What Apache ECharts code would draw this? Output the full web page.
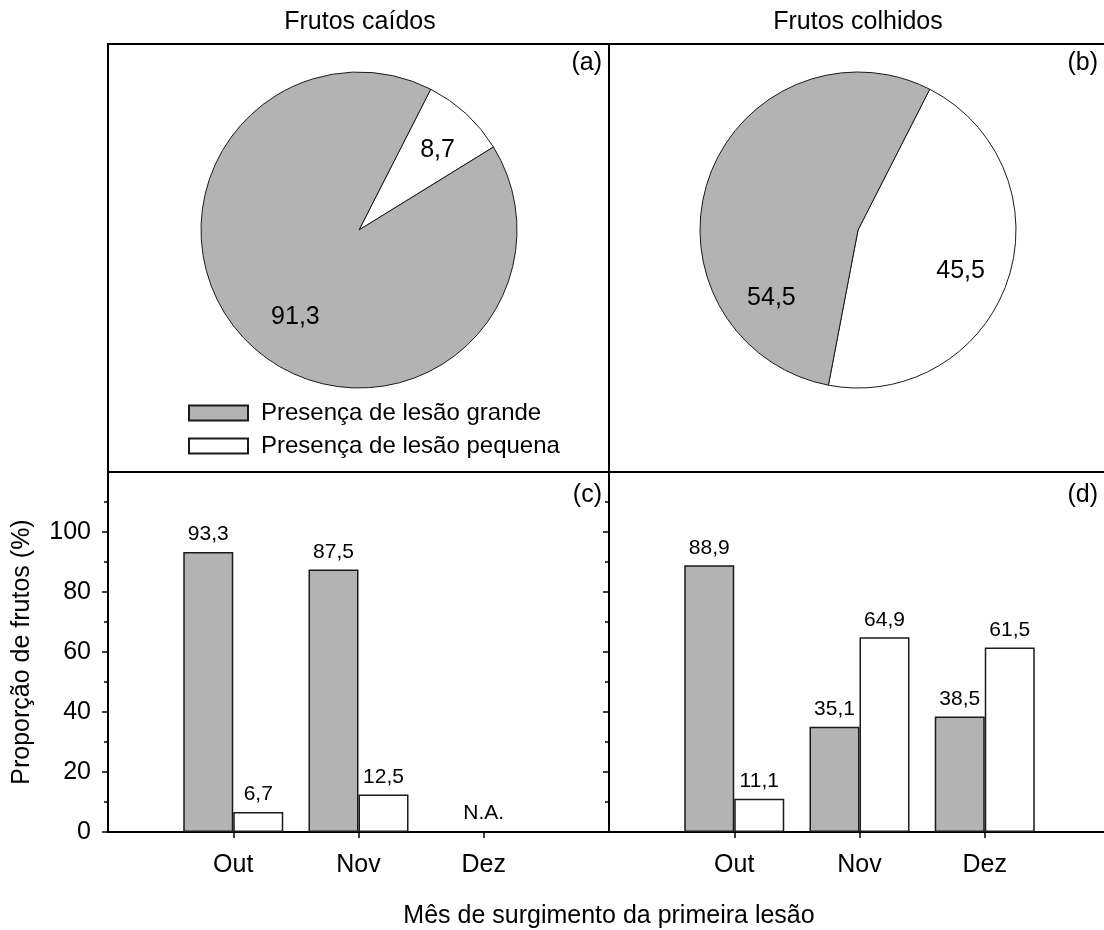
<!DOCTYPE html>
<html>
<head>
<meta charset="utf-8">
<script src="https://cdn.jsdelivr.net/npm/echarts@6/dist/echarts.min.js"></script>
<style>
  html, body { margin: 0; padding: 0; background: #fff; }
  #chart { width: 1104px; height: 930px; }
</style>
</head>
<body>
<div id="chart"></div>
<script>
// ---- data ----
const months = ['Out', 'Nov', 'Dez'];
const caidosGrande = [93.3, 87.5, null];
const caidosPequena = [6.7, 12.5, null];
const colhidosGrande = [88.9, 35.1, 38.5];
const colhidosPequena = [11.1, 64.9, 61.5];
const pieCaidos = [91.3, 8.7];      // grande, pequena
const pieColhidos = [54.5, 45.5];   // grande, pequena
const yTickLabels = [0, 20, 40, 60, 80, 100];
const naMonth = 'Dez';

const NAME_G = 'Presença de lesão grande';
const NAME_P = 'Presença de lesão pequena';

// ---- styling ----
const FONT = "'Liberation Sans', Arial, sans-serif";
const GRAY = '#b3b3b3';
const EDGE = '#1a1a1a';
const frame = { left: 108, top: 44, mid: 609, split: 472, bottom: 832, panelW: 501 };

// x positions: one empty slot on each side so the months sit at 1..3 of 0..4
const xCats = ['_l', ...months, '_r'];
const pad = arr => [null, ...arr, null];
const fmt = v => (v == null ? '' : Number(v).toFixed(1).replace('.', ','));

// label nudges for the pie slices, ordered [pequena, grande]
const pieLabelShift = {
  caidos: [[23, -20], [-8, 27]],
  colhidos: [[25, 15], [-9, 95]]
};

function xAxis(gridIndex) {
  return {
    gridIndex, type: 'category', data: xCats, boundaryGap: false,
    axisLine: { show: true, lineStyle: { color: '#000', width: 2 } },
    axisTick: {
      show: true, inside: false, length: 6,
      interval: (i) => i >= 1 && i <= months.length,
      lineStyle: { color: '#000', width: 1.5 }
    },
    axisLabel: {
      interval: 0, fontSize: 25, color: '#000', margin: 21, fontFamily: FONT,
      formatter: v => (months.includes(v) ? v : '')
    },
    splitLine: { show: false }
  };
}

function yAxis(gridIndex, withLabels) {
  const ax = {
    gridIndex, type: 'value', min: 0, max: 120, interval: 20,
    axisLine: { show: true, lineStyle: { color: '#000', width: 2 } },
    axisTick: { show: true, inside: false, length: 6, customValues: yTickLabels,
      lineStyle: { color: '#000', width: 1.5 } },
    minorTick: { show: true, splitNumber: 2, length: 4, lineStyle: { color: '#000', width: 1.5 } },
    splitLine: { show: false },
    minorSplitLine: { show: false },
    axisLabel: {
      show: withLabels, fontSize: 25, color: '#000', margin: 17, fontFamily: FONT,
      formatter: v => (yTickLabels.includes(v) ? String(v) : '')
    }
  };
  if (withLabels) {
    ax.name = 'Proporção de frutos (%)';
    ax.nameLocation = 'middle';
    ax.nameGap = 73;
    ax.nameTextStyle = { fontSize: 25, color: '#000', fontFamily: FONT };
  }
  return ax;
}

const barLabel = {
  show: true, position: 'top', distance: 7, fontSize: 21, color: '#000', fontFamily: FONT,
  formatter: p => fmt(p.value)
};

function bar(name, values, axisIndex, color) {
  return {
    type: 'bar', name, xAxisIndex: axisIndex, yAxisIndex: axisIndex,
    data: pad(values), barWidth: 50, barGap: '0%',
    itemStyle: { color, borderColor: EDGE, borderWidth: 1.5 },
    label: barLabel, silent: true, emphasis: { disabled: true }
  };
}

function pie(values, cx, shift) {
  return {
    type: 'pie', center: [cx, 230], radius: 158, startAngle: 63, clockwise: true,
    avoidLabelOverlap: false, silent: true, emphasis: { disabled: true },
    data: [
      { name: NAME_P, value: values[1], itemStyle: { color: '#ffffff' } },
      { name: NAME_G, value: values[0], itemStyle: { color: GRAY } }
    ],
    itemStyle: { borderColor: EDGE, borderWidth: 1 },
    label: {
      show: true, position: 'inside', fontSize: 25, color: '#000', fontFamily: FONT,
      formatter: p => fmt(p.value)
    },
    labelLine: { show: false },
    labelLayout: p => ({ dx: shift[p.dataIndex][0], dy: shift[p.dataIndex][1] })
  };
}

const textEl = (text, x, y, align) => ({
  type: 'text', x, y, silent: true,
  style: { text, fill: '#000', font: '25px ' + FONT, textAlign: align || 'center', textVerticalAlign: 'middle' }
});

const gridBase = {
  top: frame.split, width: frame.panelW, height: frame.bottom - frame.split,
  show: true, borderColor: '#000', borderWidth: 2, backgroundColor: 'transparent',
  containLabel: false, outerBoundsMode: 'none'
};

const option = {
  backgroundColor: '#fff',
  animation: false,
  textStyle: { fontFamily: FONT },
  grid: [
    Object.assign({ left: frame.left }, gridBase),
    Object.assign({ left: frame.mid }, gridBase)
  ],
  xAxis: [xAxis(0), xAxis(1)],
  yAxis: [yAxis(0, true), yAxis(1, false)],
  legend: {
    orient: 'vertical', left: 188, top: 401, itemWidth: 59, itemHeight: 15, itemGap: 9,
    padding: 0, icon: 'rect', selectedMode: false,
    data: [NAME_G, NAME_P],
    formatter: '{t|{name}}',
    textStyle: { fontSize: 24, color: '#000', fontFamily: FONT,
      rich: { t: { fontSize: 24, color: '#000', fontFamily: FONT, padding: [0, 0, 0, 8] } } }
  },
  series: [
    bar(NAME_G, caidosGrande, 0, GRAY),
    bar(NAME_P, caidosPequena, 0, '#ffffff'),
    bar(NAME_G, colhidosGrande, 1, GRAY),
    bar(NAME_P, colhidosPequena, 1, '#ffffff'),
    {
      // "not available" marker for the month without data
      type: 'scatter', xAxisIndex: 0, yAxisIndex: 0, symbolSize: 0, silent: true,
      itemStyle: { opacity: 1 },
      data: [[naMonth, 0]],
      label: { show: true, position: 'top', distance: 8, fontSize: 21, color: '#000', opacity: 1,
        fontFamily: FONT, formatter: 'N.A.' }
    },
    pie(pieCaidos, 359, pieLabelShift.caidos),
    pie(pieColhidos, 858, pieLabelShift.colhidos)
  ],
  graphic: [
    { type: 'rect', silent: true, z: 10,
      shape: { x: frame.left, y: frame.top, width: frame.panelW, height: frame.split - frame.top },
      style: { fill: 'none', stroke: '#000', lineWidth: 2 } },
    { type: 'rect', silent: true, z: 10,
      shape: { x: frame.mid, y: frame.top, width: frame.panelW, height: frame.split - frame.top },
      style: { fill: 'none', stroke: '#000', lineWidth: 2 } },
    textEl('Frutos caídos', 360, 22),
    textEl('Frutos colhidos', 858, 22),
    textEl('(a)', 602, 63, 'right'),
    textEl('(b)', 1098, 63, 'right'),
    textEl('(c)', 602, 495, 'right'),
    textEl('(d)', 1098, 495, 'right'),
    textEl('Mês de surgimento da primeira lesão', 609, 916)
  ]
};

const chart = echarts.init(document.getElementById('chart'), null, { renderer: 'canvas' });
chart.setOption(option);
</script>
</body>
</html>
